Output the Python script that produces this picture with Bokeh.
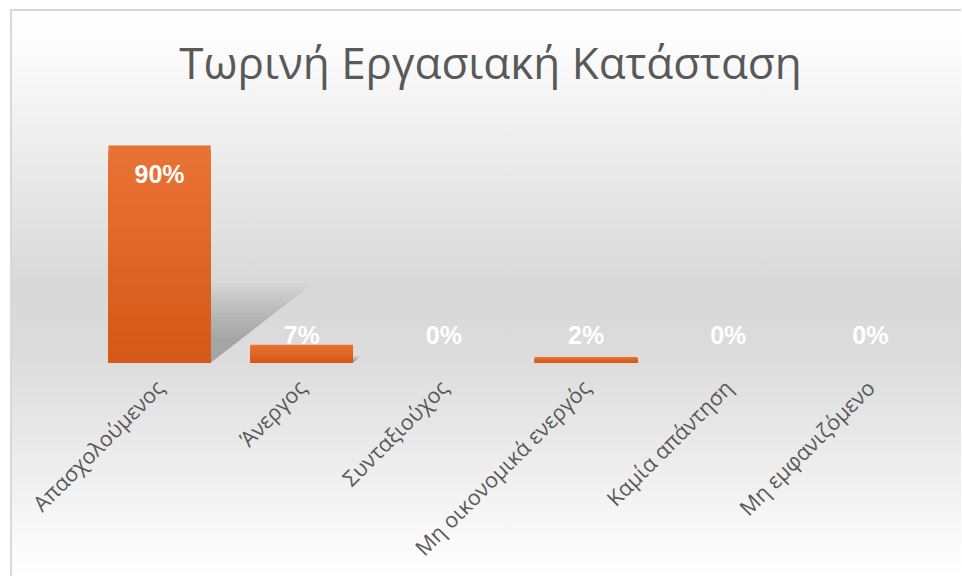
import math
from bokeh.plotting import figure
from bokeh.models import Range1d, FixedTicker, ColumnDataSource, Label
from bokeh.core.properties import value
from bokeh.embed import file_html
from bokeh.resources import INLINE

# ---- data ----
categories = ["Απασχολούμενος", "Άνεργος", "Συνταξιούχος",
              "Μη οικονομικά ενεργός", "Καμία απάντηση", "Μη εμφανιζόμενο"]
shares = [0.900, 0.074, 0.0, 0.022, 0.0, 0.0]
title_text = "Τωρινή Εργασιακή Κατάσταση"

xs = [i + 0.5 for i in range(len(categories))]
labels = [f"{round(v * 100):.0f}%" for v in shares]

# ---- layout constants (pixels) ----
W, H = 961, 576
FRAME_H = 241.0          # px for 100 %
BASE = 362
MBT = 30
MBB = H - BASE
Y_END = (BASE - MBT) / FRAME_H

bg = ", ".join([
    "linear-gradient(#d9d9d9, #d9d9d9) 10px 9px / 2px 100% no-repeat",
    "linear-gradient(#d9d9d9, #d9d9d9) 10px 9px / 100% 2px no-repeat",
    "linear-gradient(#ffffff, #ffffff) 0 0 / 10px 100% no-repeat",
    "linear-gradient(#ffffff, #ffffff) 0 0 / 100% 9px no-repeat",
    "linear-gradient(to bottom, #ffffff 2%, #fcfcfc 8%, #d8d8d8 50%, #dcdcdc 62%, #ffffff 100%)",
])

p = figure(width=W, height=H, output_backend="svg", toolbar_location=None,
           x_range=Range1d(0, len(categories)), y_range=Range1d(0, Y_END),
           min_border_left=88, min_border_right=W - 941, min_border_top=MBT,
           min_border_bottom=MBB,
           styles={"background": bg})
p.background_fill_color = None
p.border_fill_color = None
p.outline_line_color = None
p.grid.visible = False
p.yaxis.visible = False

ax = p.xaxis[0]
ax.ticker = FixedTicker(ticks=xs)
ax.major_label_overrides = {x: c for x, c in zip(xs, categories)}
ax.major_label_orientation = math.pi / 4
ax.axis_line_color = None
ax.major_tick_line_color = None
ax.minor_tick_line_color = None
ax.major_label_standoff = 15
ax.major_label_text_font = "Open Sans"
ax.major_label_text_font_size = "21.5px"
ax.major_label_text_color = "#595959"

# ---- soft perspective shadows ----
half = 0.36
n_layers = 16
for layer in range(n_layers):
    f = 1.35 - 0.95 * layer / (n_layers - 1)
    sx, sy = [], []
    for x, v in zip(xs, shares):
        if v <= 0:
            continue
        s = 0.27 * v * f
        dx = 0.59 * v * f
        sx.append([x - half, x + half, x + half + dx, x - half + dx])
        sy.append([0, 0, s, s])
    p.patches(sx, sy, fill_color="#555555", fill_alpha=0.032, line_color=None)

# ---- bars with vertical gradient ----
light = (0xE9, 0x73, 0x35)
dark = (0xD4, 0x58, 0x17)
N = 40
for k in range(N, 0, -1):
    t = k / N
    col = "#%02x%02x%02x" % tuple(int(round(d + (l - d) * t)) for l, d in zip(light, dark))
    p.quad(left=[x - half for x in xs], right=[x + half for x in xs],
           bottom=[0] * len(xs), top=[v * t for v in shares],
           fill_color=col, line_color=None)

# ---- value labels ----
off = 28 / FRAME_H
ly = [v - off if v * FRAME_H >= 56 else off for v in shares]
src = ColumnDataSource(dict(x=xs, y=ly, t=labels))
p.text(x="x", y="y", text="t", source=src, text_align="center", text_baseline="middle",
       text_color="white", text_font=value("Liberation Sans"), text_font_style="bold",
       text_font_size="25px")

# ---- title ----
cat_w = (941 - 88) / len(categories)
title_x = (490 - 88) / cat_w
title_y = (BASE - 61) / FRAME_H
p.add_layout(Label(x=title_x, y=title_y, text=title_text, text_align="center",
                   text_baseline="middle", text_font="Open Sans", text_font_size="44px",
                   text_color="#595959"))

open("out.html", "w").write(file_html(p, INLINE))
